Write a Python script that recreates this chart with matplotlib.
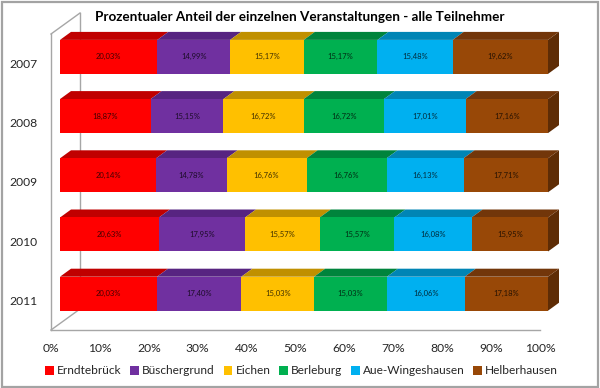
import matplotlib
matplotlib.use("Agg")
import matplotlib.pyplot as plt
from matplotlib.patches import Polygon, Rectangle
import numpy as np

title = "Prozentualer Anteil der einzelnen Veranstaltungen - alle Teilnehmer"
years = ["2007", "2008", "2009", "2010", "2011"]
erndtebrueck = [20.03, 18.87, 20.14, 20.63, 20.03]
bueschergrund = [14.99, 15.15, 14.78, 17.95, 17.40]
eichen = [15.17, 16.72, 16.76, 15.57, 15.03]
berleburg = [15.17, 16.72, 16.76, 15.57, 15.03]
aue = [15.48, 17.01, 16.13, 16.08, 16.06]
helberhausen = [19.62, 17.16, 17.71, 15.95, 17.18]
names = ["Erndtebrück", "Büschergrund", "Eichen", "Berleburg", "Aue-Wingeshausen", "Helberhausen"]
front = ["#FF0000", "#7030A0", "#FFC000", "#00B050", "#00B0F0", "#984807"]
top = ["#C00000", "#572481", "#C09000", "#00843C", "#0085B5", "#72360A"]
SIDE = "#5E2C05"
GRID = "#A6A6A6"
FONT = "Lato"

W, H = 600, 388
fig = plt.figure(figsize=(W / 100, H / 100), dpi=100, facecolor="white")
plt.rcParams["font.family"] = FONT
fig.add_artist(Rectangle((1.5 / W, 1.5 / H), 596.5 / W, 385 / H, transform=fig.transFigure,
                         fc="white", ec="#A3A3A3", lw=1.6, zorder=-5))

L, R, T, B = 51, 540, 34, 330
ax = fig.add_axes([L / W, 1 - B / H, (R - L) / W, (B - T) / H])
ax.set_xlim(0, 100)
ax.set_ylim(4.5, -0.5)
ax.patch.set_alpha(0)
px = 100 / (R - L)
py = 5 / (B - T)

# walls
wx, wy = 29 * px, 21 * py
ax.plot([0, wx], [4.5, 4.5 - wy], color=GRID, lw=1, clip_on=False, zorder=1)
ax.plot([wx, wx], [4.5 - wy, -0.5 - wy], color=GRID, lw=1, clip_on=False, zorder=1)
ax.plot([0, wx], [-0.5, -0.5 - wy], color=GRID, lw=1, clip_on=False, zorder=1)

series = [erndtebrueck, bueschergrund, eichen, berleburg, aue, helberhausen]
vals = np.array(series)
shares = vals / vals.sum(axis=0) * 100
ox, oy = 9 * px, -6.7 * py      # shift of the bars inside the 3D box
dx, dy = 11 * px, -8 * py       # bar depth
bh = 34 * py
scale = 488 / 489
y = np.arange(len(years)) + oy
left = np.zeros(len(years))
handles = []
for i in range(6):
    w = shares[i] * scale
    b = ax.barh(y, w, left=left + ox, height=bh, color=front[i], edgecolor="none", zorder=3, clip_on=False)
    handles.append(b[0])
    for j in range(len(years)):
        x0, x1 = left[j] + ox, left[j] + ox + w[j]
        yt = y[j] - bh / 2
        ax.add_patch(Polygon([(x0, yt), (x1, yt), (x1 + dx, yt + dy), (x0 + dx, yt + dy)],
                             fc=top[i], ec="none", zorder=2.5 + i * 0.01, clip_on=False))
        if i == 5:
            yb = y[j] + bh / 2
            ax.add_patch(Polygon([(x1, yt), (x1 + dx, yt + dy), (x1 + dx, yb + dy), (x1, yb)],
                                 fc=SIDE, ec="none", zorder=2.5, clip_on=False))
        ax.text((x0 + x1) / 2, y[j], f"{vals[i][j]:.2f}%".replace(".", ","), ha="center", va="center",
                fontsize=5.5, color="black", alpha=0.75, zorder=4, family=FONT)
    left = left + w

for s in ["top", "right"]:
    ax.spines[s].set_visible(False)
for s in ["left", "bottom"]:
    ax.spines[s].set_color(GRID)
    ax.spines[s].set_linewidth(1)
ax.set_xticks(np.arange(0, 101, 10))
ax.set_xticklabels([f"{v}%" for v in range(0, 101, 10)], fontsize=8.7, color="#262626", family=FONT)
ax.set_yticks(range(5))
ax.set_yticklabels(years, fontsize=8.7, color="#262626", family=FONT)
ax.tick_params(axis="both", length=0)
ax.tick_params(axis="x", pad=9.5)
ax.tick_params(axis="y", pad=9.4)

fig.text(300 / W, 1 - 17 / H, title, ha="center", va="center", fontsize=9.75, fontweight="bold", color="black", family=FONT)

leg = fig.legend(handles, names, loc="center", bbox_to_anchor=(301.5 / W, 1 - 371 / H), ncol=6, frameon=False,
                 handlelength=0.75, handleheight=0.75, handletextpad=0.25, columnspacing=0.72,
                 labelcolor="#262626", prop={"family": FONT, "size": 8.6}, borderpad=0, borderaxespad=0)
fig.savefig("out.png", dpi=100)
